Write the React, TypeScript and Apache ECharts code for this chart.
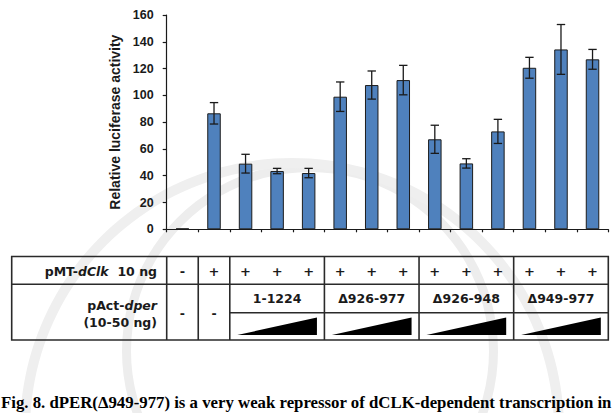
import React, { useEffect, useRef } from "react";
import * as echarts from "echarts";

// Lanes of the luciferase reporter assay
const lanes = ["1", "2", "3", "4", "5", "6", "7", "8", "9", "10", "11", "12", "13", "14"];
// Mean relative luciferase activity per lane
const activity = [0.6, 86.6, 49, 43.5, 42, 99, 107.7, 111.4, 67.2, 49.2, 73.1, 120.6, 134.3, 126.9];
// Standard deviation per lane
const deviation = [0, 8, 7, 2, 3.5, 11, 10.5, 11, 10.5, 3.5, 9, 7.8, 18.6, 7.4];
// pMT-dClk presence per lane
const clkRow = ["-", "+", "+", "+", "+", "+", "+", "+", "+", "+", "+", "+", "+", "+"];
// pAct-dper constructs, each titrated over three lanes
const perGroups = ["1-1224", "Δ926-977", "Δ926-948", "Δ949-977"];
const perGroupStart = [2, 5, 8, 11];
const perNone = [0, 1];
const yTicks = { min: 0, max: 160, interval: 20 };

const TABLE_FONT = "bold 12.5px 'DejaVu Sans'";
const INK = "#1a1a1a";

export default function App() {
  const ref = useRef<HTMLDivElement>(null);

  useEffect(() => {
    if (!ref.current) return;
    const chart = echarts.init(ref.current, null, { renderer: "svg" });

    const errData = activity
      .map((v, i) => [i, v - deviation[i], v + deviation[i]])
      .filter((_, i) => deviation[i] > 0);

    chart.setOption({
      animation: false,
      backgroundColor: "#ffffff",
      grid: { left: 166.7, right: 7.7, top: 15, bottom: 183.7, containLabel: false },
      xAxis: {
        type: "category",
        data: lanes,
        boundaryGap: true,
        axisLine: { lineStyle: { color: INK, width: 1.2 } },
        axisTick: { show: true, inside: false, length: 3, lineStyle: { color: INK, width: 1.2 } },
        axisLabel: { show: false },
        splitLine: { show: false },
      },
      yAxis: {
        type: "value",
        min: yTicks.min,
        max: yTicks.max,
        interval: yTicks.interval,
        name: "Relative luciferase activity",
        nameLocation: "middle",
        nameRotate: 90,
        nameGap: 44,
        nameTextStyle: {
          fontFamily: "'Liberation Sans'",
          fontWeight: "bold",
          fontSize: 14,
          color: INK,
        },
        axisLine: { show: true, lineStyle: { color: INK, width: 1.2 } },
        axisTick: { show: true, inside: false, length: 4, lineStyle: { color: INK, width: 1.2 } },
        axisLabel: {
          margin: 13,
          fontFamily: "'Liberation Sans'",
          fontWeight: "bold",
          fontSize: 12.5,
          color: INK,
        },
        splitLine: { show: false },
      },
      series: [
        {
          type: "bar",
          data: activity,
          barWidth: 13.5,
          itemStyle: { color: "#4f81bd", borderColor: "#1c1c1c", borderWidth: 1 },
          z: 2,
        },
        {
          type: "custom",
          data: errData,
          z: 3,
          renderItem: (params: any, api: any) => {
            const x = api.value(0);
            const lo = api.coord([x, api.value(1)]);
            const hi = api.coord([x, api.value(2)]);
            const hw = 4.2;
            const st = { stroke: INK, lineWidth: 1.3 };
            return {
              type: "group",
              children: [
                { type: "line", shape: { x1: lo[0], y1: lo[1], x2: hi[0], y2: hi[1] }, style: st },
                { type: "line", shape: { x1: hi[0] - hw, y1: hi[1], x2: hi[0] + hw, y2: hi[1] }, style: st },
                { type: "line", shape: { x1: lo[0] - hw, y1: lo[1], x2: lo[0] + hw, y2: lo[1] }, style: st },
              ],
            };
          },
        },
      ],
    });

    // Lane geometry from the category axis
    const c0 = chart.convertToPixel({ xAxisIndex: 0 }, 0) as number;
    const c1 = chart.convertToPixel({ xAxisIndex: 0 }, 1) as number;
    const step = c1 - c0;
    const center = (i: number) => c0 + i * step;
    const edge = (i: number) => c0 + (i - 0.5) * step;

    const tLeft = 11.7;
    const tRight = edge(lanes.length);
    const tTop = 256.5;
    const tMid = 284.3;
    const tSub = 312.7;
    const tBottom = 340;
    const lineSt = { stroke: "#2a2a2a", lineWidth: 1.6 };

    const g: any[] = [];

    // Faint seal in the background
    g.push({
      type: "ring",
      shape: { cx: 310, cy: 351, r: 188, r0: 179 },
      style: { fill: "#ededed" },
      z: -10,
      silent: true,
    });
    g.push({
      type: "ring",
      shape: { cx: 292, cy: 430, r: 272, r0: 262 },
      style: { fill: "#efefef" },
      z: -10,
      silent: true,
    });

    // Table frame
    g.push({
      type: "rect",
      shape: { x: tLeft, y: tTop, width: tRight - tLeft, height: tBottom - tTop },
      style: { fill: "none", ...lineSt },
    });
    g.push({ type: "line", shape: { x1: tLeft, y1: tMid, x2: tRight, y2: tMid }, style: lineSt });
    g.push({ type: "line", shape: { x1: edge(2), y1: tSub, x2: tRight, y2: tSub }, style: lineSt });
    const colEdges = [0, 1, 2, ...perGroupStart.slice(1)];
    colEdges.forEach((i) => {
      g.push({ type: "line", shape: { x1: edge(i), y1: tTop, x2: edge(i), y2: tBottom }, style: lineSt });
    });

    // Row labels
    g.push({
      type: "text",
      style: {
        x: 157,
        y: (tTop + tMid) / 2 + 1,
        text: "{n|pMT-}{i|dClk}{n|  10 ng}",
        align: "right",
        verticalAlign: "middle",
        rich: {
          n: { font: TABLE_FONT, fill: INK },
          i: { font: "italic " + TABLE_FONT, fill: INK },
        },
      },
    });
    g.push({
      type: "text",
      style: {
        x: 157,
        y: 305,
        text: "{n|pAct-}{i|dper}",
        align: "right",
        verticalAlign: "middle",
        rich: {
          n: { font: TABLE_FONT, fill: INK },
          i: { font: "italic " + TABLE_FONT, fill: INK },
        },
      },
    });
    g.push({
      type: "text",
      style: { x: 157, y: 322, text: "(10-50 ng)", font: TABLE_FONT, fill: INK, align: "right", verticalAlign: "middle" },
    });

    // pMT-dClk row
    clkRow.forEach((s, i) => {
      g.push({
        type: "text",
        style: {
          x: center(i),
          y: (tTop + tMid) / 2 + 1,
          text: s,
          font: "bold 13px 'DejaVu Sans'",
          fill: INK,
          align: "center",
          verticalAlign: "middle",
        },
      });
    });

    // pAct-dper row
    perNone.forEach((i) => {
      g.push({
        type: "text",
        style: {
          x: center(i),
          y: (tMid + tBottom) / 2 + 1,
          text: "-",
          font: TABLE_FONT,
          fill: INK,
          align: "center",
          verticalAlign: "middle",
        },
      });
    });
    perGroups.forEach((label, k) => {
      const s = perGroupStart[k];
      const l = edge(s);
      const r = edge(s + 3);
      g.push({
        type: "text",
        style: {
          x: (l + r) / 2,
          y: (tMid + tSub) / 2,
          text: label,
          font: TABLE_FONT,
          fill: INK,
          align: "center",
          verticalAlign: "middle",
        },
      });
      g.push({
        type: "polygon",
        shape: { points: [[l + 7.5, 335], [r - 7.5, 335], [r - 7.5, 317.5]] },
        style: { fill: "#000000" },
      });
    });

    // Caption
    g.push({
      type: "text",
      style: {
        x: 1,
        y: 402,
        text: "Fig. 8. dPER(Δ949-977) is a very weak repressor of dCLK-dependent transcription in",
        font: "bold 16.8px 'Liberation Serif'",
        fill: "#000000",
        align: "left",
        verticalAlign: "middle",
      },
    });

    chart.setOption({ graphic: { elements: g } });

    return () => chart.dispose();
  }, []);

  return (
    <div
      ref={ref}
      style={{ position: "fixed", left: 0, top: 0, width: 616, height: 413, background: "#fff" }}
    />
  );
}
